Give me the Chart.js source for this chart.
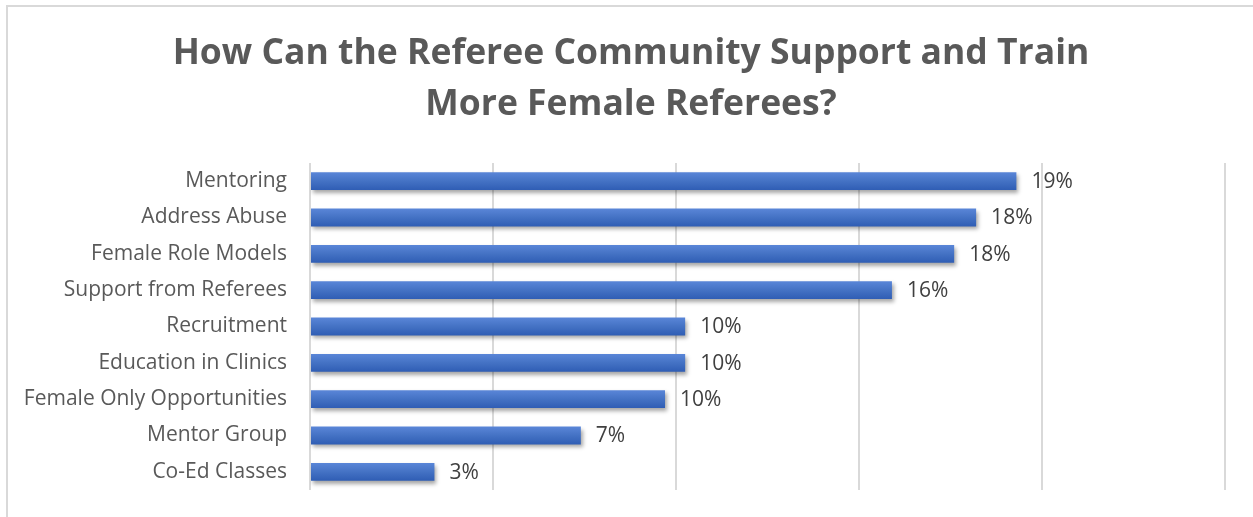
<!DOCTYPE html>
<html>
<head>
<meta charset="utf-8">
<script src="https://cdn.jsdelivr.net/npm/chart.js@4"></script>
<style>
  html, body { margin: 0; padding: 0; background: #fff; }
  body { width: 1253px; height: 517px; position: relative; overflow: hidden; }
  #frame { position: absolute; left: 6px; top: 5px; width: 1300px; height: 600px;
           border: 2px solid #d9d9d9; box-sizing: border-box; }
  #chart { position: absolute; left: 0; top: 0; }
</style>
</head>
<body>
<div id="frame"></div>
<canvas id="chart" width="1253" height="517"></canvas>
<script>
let titleLines = ["How Can the Referee Community Support and Train", "More Female Referees?"];
let categories = [
  "Mentoring",
  "Address Abuse",
  "Female Role Models",
  "Support from Referees",
  "Recruitment",
  "Education in Clinics",
  "Female Only Opportunities",
  "Mentor Group",
  "Co-Ed Classes",
];
// percent values
let values = [19.3, 18.2, 17.6, 15.9, 10.25, 10.25, 9.7, 7.4, 3.4];
let labels = ["19%", "18%", "18%", "16%", "10%", "10%", "10%", "7%", "3%"];

const FONT = "'Open Sans', sans-serif";

// gradient per bar, light at top and darker at bottom
function barColor(context) {
  let chart = context.chart;
  let yScale = chart.scales.y;
  if (!yScale || context.dataIndex === undefined) return "#4472c4";
  let center = yScale.getPixelForValue(context.dataIndex);
  if (!isFinite(center)) return "#4472c4";
  let half = 9;
  let g = chart.ctx.createLinearGradient(0, center - half, 0, center + half);
  g.addColorStop(0, "#5a86d8");
  g.addColorStop(0.5, "#4472c4");
  g.addColorStop(1, "#2f5db4");
  return g;
}

// title centred on the chart frame, not on the plot
let frameTitle = {
  id: "frameTitle",
  afterDraw(chart) {
    let ctx = chart.ctx;
    ctx.save();
    ctx.font = "bold 35.5px " + FONT;
    ctx.fillStyle = "#595959";
    ctx.textAlign = "center";
    ctx.textBaseline = "middle";
    let cx = (7 + chart.width) / 2 + 1;
    titleLines.forEach((line, i) => {
      ctx.fillText(line, cx, 54 + i * 51);
    });
    ctx.restore();
  },
};

let shadowPlugin = {
  id: "shadow",
  beforeDatasetsDraw(chart) {
    let ctx = chart.ctx;
    ctx.save();
    ctx.shadowColor = "rgba(0,0,0,0.35)";
    ctx.shadowBlur = 4;
    ctx.shadowOffsetX = 2;
    ctx.shadowOffsetY = 3;
  },
  afterDatasetsDraw(chart) {
    chart.ctx.restore();
  },
};

let valueLabels = {
  id: "valueLabels",
  afterDraw(chart) {
    let ctx = chart.ctx;
    let meta = chart.getDatasetMeta(0);
    ctx.save();
    ctx.font = "21px " + FONT;
    ctx.fillStyle = "#404040";
    ctx.textAlign = "left";
    ctx.textBaseline = "middle";
    meta.data.forEach((bar, i) => {
      ctx.fillText(labels[i], bar.x + 15, bar.y + 1);
    });
    ctx.restore();
  },
};

new Chart(document.getElementById("chart"), {
  type: "bar",
  data: {
    labels: categories,
    datasets: [
      {
        data: values,
        backgroundColor: barColor,
        borderWidth: 0,
        barPercentage: 0.49,
        categoryPercentage: 1,
      },
    ],
  },
  options: {
    indexAxis: "y",
    responsive: false,
    animation: false,
    layout: {
      padding: { left: 0, right: 28, top: 163, bottom: 27 },
    },
    plugins: {
      legend: { display: false },
      tooltip: { enabled: false },
      title: { display: false },
    },
    scales: {
      x: {
        min: 0,
        max: 25,
        afterFit(scale) {
          scale.height = 0;
        },
        ticks: { display: false, stepSize: 5 },
        grid: { color: "#d9d9d9", lineWidth: 2, drawTicks: false },
        border: { display: false },
      },
      y: {
        afterFit(scale) {
          scale.width = 310;
          scale.paddingTop = 0;
          scale.paddingBottom = 0;
        },
        ticks: {
          color: "#595959",
          font: { family: FONT, size: 21 },
          padding: 23,
        },
        grid: { display: false, drawTicks: false },
        border: { display: false },
      },
    },
  },
  plugins: [shadowPlugin, valueLabels, frameTitle],
});
</script>
</body>
</html>
